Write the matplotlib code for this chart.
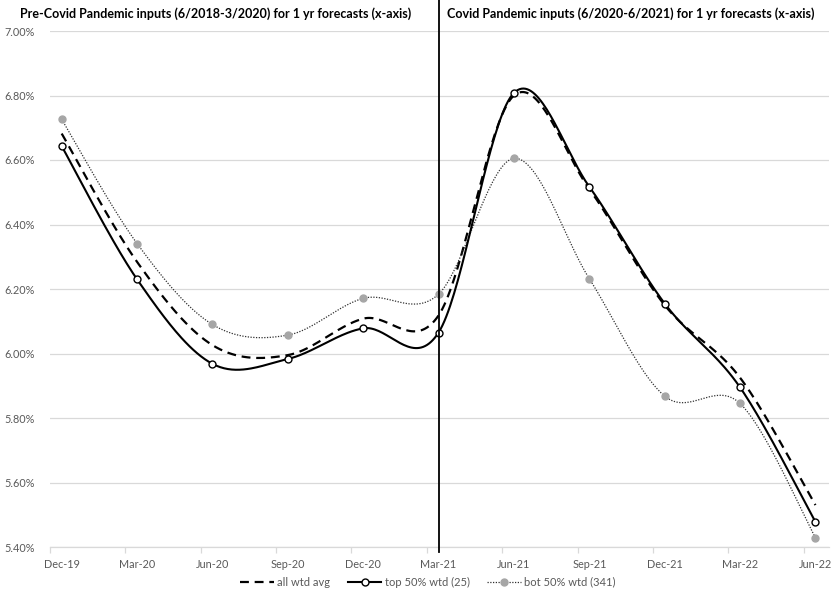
import numpy as np
import matplotlib
matplotlib.use("Agg")
import matplotlib.pyplot as plt
from matplotlib.lines import Line2D

categories = ["Dec-19", "Mar-20", "Jun-20", "Sep-20", "Dec-20", "Mar-21",
              "Jun-21", "Sep-21", "Dec-21", "Mar-22", "Jun-22"]
all_wtd_avg = [6.682, 6.284, 6.026, 5.995, 6.108, 6.118, 6.800, 6.510, 6.150, 5.925, 5.530]
top_50_wtd = [6.643, 6.230, 5.968, 5.983, 6.078, 6.065, 6.808, 6.517, 6.155, 5.895, 5.478]
bot_50_wtd = [6.726, 6.341, 6.090, 6.057, 6.171, 6.184, 6.605, 6.232, 5.868, 5.845, 5.429]
y_ticks = [5.40, 5.60, 5.80, 6.00, 6.20, 6.40, 6.60, 6.80, 7.00]
title_left = "Pre-Covid Pandemic inputs (6/2018-3/2020) for 1 yr forecasts (x-axis)"
title_right = "Covid Pandemic inputs (6/2020-6/2021) for 1 yr forecasts (x-axis)"
legend_labels = ["all wtd avg", "top 50% wtd (25)", "bot 50% wtd (341)"]
divider_category = "Mar-21"

plt.rcParams['font.family'] = ['Lato', 'DejaVu Sans']


def smooth(x, y, n=40):
    pts = np.column_stack([x, y]).astype(float)
    P = np.vstack([pts[0], pts, pts[-1]])
    out = []
    t = np.linspace(0, 1, n)[:, None]
    for i in range(len(pts) - 1):
        p0, p1, p2, p3 = P[i], P[i + 1], P[i + 2], P[i + 3]
        c1 = p1 + (p2 - p0) / 6
        c2 = p2 - (p3 - p1) / 6
        seg = (1 - t) ** 3 * p1 + 3 * (1 - t) ** 2 * t * c1 + 3 * (1 - t) * t ** 2 * c2 + t ** 3 * p2
        out.append(seg if i == 0 else seg[1:])
    s = np.vstack(out)
    return s[:, 0], s[:, 1]


fig = plt.figure(figsize=(8.31, 5.95), dpi=100)
ax = fig.add_axes([50 / 831, 1 - 547 / 595, 779 / 831, 516 / 595])

x = np.arange(len(categories))

grid_c = "#D9D9D9"
for v in y_ticks:
    ax.axhline(v, color=grid_c, lw=0.9, zorder=0)

# all wtd avg
sx, sy = smooth(x, all_wtd_avg)
ax.plot(sx, sy, color="black", lw=1.6, dashes=(4.0, 2.6), zorder=3)
# top 50%
sx, sy = smooth(x, top_50_wtd)
ax.plot(sx, sy, color="black", lw=1.5, zorder=4)
ax.plot(x, top_50_wtd, ls="none", marker="o", ms=5, mfc="white", mec="black", mew=1.0, zorder=6)
# bot 50%
sx, sy = smooth(x, bot_50_wtd)
ax.plot(sx, sy, color="#303030", lw=0.9, ls=(0, (1.0, 1.2)), zorder=3)
ax.plot(x, bot_50_wtd, ls="none", marker="o", ms=5, mfc="#A6A6A6", mec="#A6A6A6", zorder=5)

# divider line
xd = categories.index(divider_category) + 0.01
ax.axvline(xd, ymin=-0.01, ymax=1 + 31 / 516, color="black", lw=1.3, clip_on=False, zorder=7)

ax.set_xlim(-0.146, 10.18)
ax.set_ylim(5.40, 7.00)
ax.set_yticks(y_ticks)
ax.set_yticklabels([f"{v:.2f}%" for v in y_ticks])
ax.set_xticks(x)
ax.set_xticklabels(categories)
ax.set_xticks(x - 0.155, minor=True)
ax.tick_params(axis="x", which="major", length=0, pad=9, labelsize=7.8, labelcolor="#595959")
ax.tick_params(axis="x", which="minor", length=4, color=grid_c, width=0.9)
ax.tick_params(axis="y", length=0, pad=11, labelsize=7.8, labelcolor="#595959")
for s in ["top", "right", "left"]:
    ax.spines[s].set_visible(False)
ax.spines["bottom"].set_color(grid_c)
ax.spines["bottom"].set_linewidth(0.9)

fig.text(216 / 831, 1 - 14 / 595, title_left, ha="center", va="center", fontsize=9, fontweight="bold")
fig.text(631 / 831, 1 - 14 / 595, title_right, ha="center", va="center", fontsize=9, fontweight="bold")

handles = [
    Line2D([], [], color="black", lw=1.6, dashes=(4.0, 2.6)),
    Line2D([], [], color="black", lw=1.5, marker="o", ms=5, mfc="white", mec="black"),
    Line2D([], [], color="#303030", lw=0.9, ls=(0, (1.0, 1.2)), marker="o", ms=5, mfc="#A6A6A6", mec="#A6A6A6"),
]
fig.legend(handles, legend_labels, loc="center", bbox_to_anchor=(428 / 831, 1 - 582 / 595), ncol=3,
           frameon=False, fontsize=8, handlelength=3.0, handletextpad=0.3, columnspacing=1.6,
           labelcolor="#595959")

fig.savefig("out.png", dpi=100)
